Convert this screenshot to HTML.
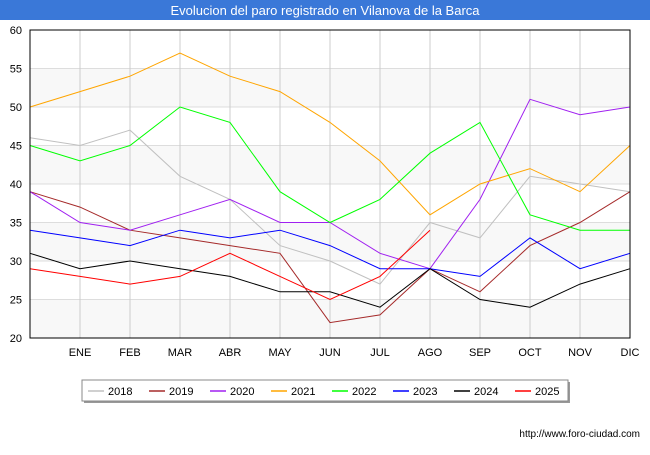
<!DOCTYPE html>
<html><head><meta charset="utf-8"><style>
body{margin:0;width:650px;height:450px;background:#fff;font-family:"Liberation Sans",sans-serif;overflow:hidden}
</style></head><body>
<svg width="650" height="450" id="svg" font-family="Liberation Sans, sans-serif">
<rect x="0" y="0" width="650" height="20" fill="#3a78d8"/>
<text x="325" y="15" text-anchor="middle" fill="#fff" font-size="13">Evolucion del paro registrado en Vilanova de la Barca</text>
<g id="grid"></g>
<g id="lines"></g>
<rect x="30" y="30" width="600" height="308" fill="none" stroke="#000"/>
<g>
<rect x="84" y="382" width="486" height="21" fill="#999" />
<rect x="82" y="380" width="486" height="21" fill="#fff" stroke="#888"/>
<g id="legend"></g>
</g>
<text x="640" y="437" text-anchor="end" font-size="10" fill="#000">http://www.foro-ciudad.com</text>
</svg>
<script>
const months=["","ENE","FEB","MAR","ABR","MAY","JUN","JUL","AGO","SEP","OCT","NOV","DIC"];
const yTicks=[20,25,30,35,40,45,50,55,60];
const years=["2018","2019","2020","2021","2022","2023","2024","2025"];
const colors=["#c0c0c0","#a52a2a","#a020f0","#ffa500","#00ff00","#0000ff","#000000","#ff0000"];
const s2018=[46,45,47,41,38,32,30,27,35,33,41,40,39];
const s2019=[39,37,34,33,32,31,22,23,29,26,32,35,39];
const s2020=[39,35,34,36,38,35,35,31,29,38,51,49,50];
const s2021=[50,52,54,57,54,52,48,43,36,40,42,39,45];
const s2022=[45,43,45,50,48,39,35,38,44,48,36,34,34];
const s2023=[34,33,32,34,33,34,32,29,29,28,33,29,31];
const s2024=[31,29,30,29,28,26,26,24,29,25,24,27,29];
const s2025=[29,28,27,28,31,28,25,28,34];
const series=[s2018,s2019,s2020,s2021,s2022,s2023,s2024,s2025];
const NS="http://www.w3.org/2000/svg";
const X=i=>30+i*50, Y=v=>338-(v-20)*7.7;
function mk(t,a,p){const e=document.createElementNS(NS,t);for(const k in a)e.setAttribute(k,a[k]);p.appendChild(e);return e;}
const grid=document.getElementById('grid');
for(let k=0;k<yTicks.length-1;k++){ if(k%2==0){const b=mk('rect',{x:30,y:Y(yTicks[k+1]),width:600,height:Y(yTicks[k])-Y(yTicks[k+1]),fill:'#f8f8f8'},grid);

}}
yTicks.forEach(v=>{const l=mk('line',{x1:30,x2:630,y1:Y(v),y2:Y(v),stroke:'#ddd'},grid);


const t=mk('text',{x:22,y:Y(v)+4,'text-anchor':'end','font-size':11},grid);t.textContent=v;

});
months.forEach((m,i)=>{if(i>0){const l=mk('line',{x1:X(i),x2:X(i),y1:30,y2:338,stroke:'#ccc'},grid);

}
const t=mk('text',{x:X(i),y:356,'text-anchor':'middle','font-size':11},grid);t.textContent=m;

});
const lines=document.getElementById('lines');
series.forEach((s,k)=>{const p=mk('polyline',{points:s.map((v,i)=>X(i)+','+Y(v)).join(' '),fill:'none',stroke:colors[k],'stroke-width':1},lines);

});
const lg=document.getElementById('legend');
years.forEach((y,k)=>{const x=88+k*61;
const l=mk('line',{x1:x,x2:x+16,y1:391,y2:391,stroke:colors[k],'stroke-width':1.5},lg);


const t=mk('text',{x:x+20,y:395,'font-size':11},lg);t.textContent=y;

});
</script>
</body></html>
